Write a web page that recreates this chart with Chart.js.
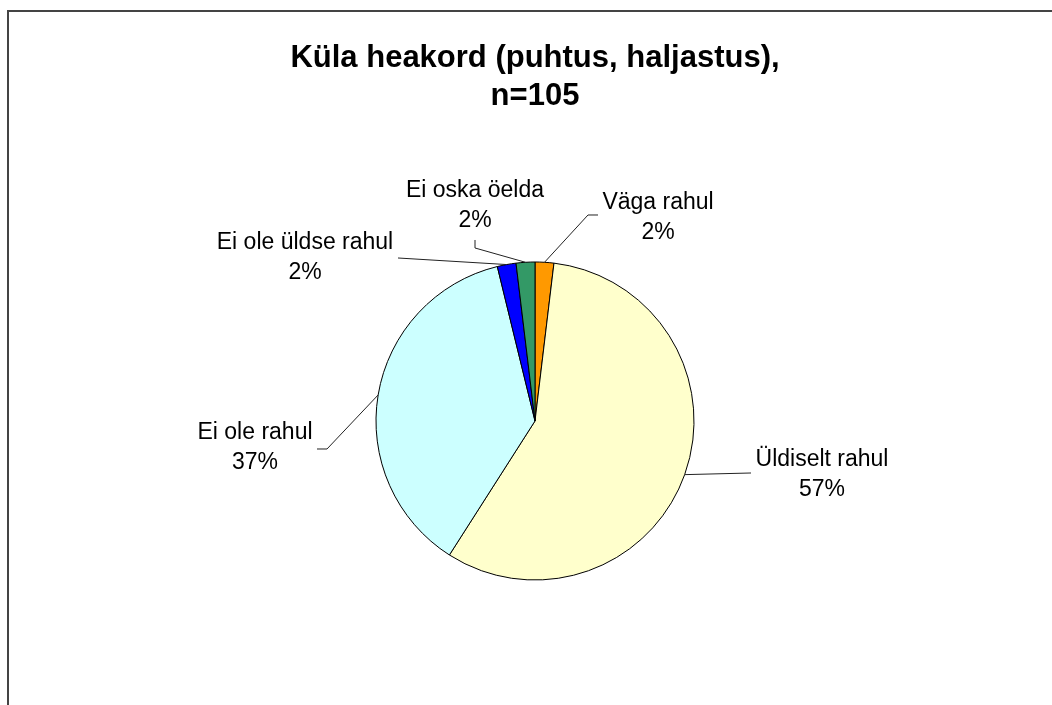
<!DOCTYPE html>
<html>
<head>
<meta charset="utf-8">
<script src="https://cdn.jsdelivr.net/npm/chart.js@4"></script>
<style>
    html, body { margin: 0; padding: 0; background: #fff; }
    .wrap { position: relative; width: 1052px; height: 705px; overflow: hidden; }
    .frame {
        position: absolute; left: 7px; top: 10px; width: 1100px; height: 800px;
        border-top: 2px solid #444; border-left: 2px solid #444;
    }
    canvas { position: absolute; left: 0; top: 0; }
</style>
</head>
<body>
<div class="wrap">
    <div class="frame"></div>
    <canvas id="pieChart" width="1052" height="705"></canvas>
</div>
<script>
const categories = ['Väga rahul', 'Üldiselt rahul', 'Ei ole rahul', 'Ei ole üldse rahul', 'Ei oska öelda'];
const counts = [2, 60, 39, 2, 2];
const titleLines = ['Küla heakord (puhtus, haljastus),', 'n=105'];
const sliceColors = ['#FF9900', '#FFFFCC', '#CCFFFF', '#0000FF', '#339966'];

// where each label sits, relative to the pie centre (text centre, leader elbow, leader end)
const labelSpots = [
    { tx: 123, ty: -218, elbow: [53, -206], end: [63, -206] },
    { tx: 287, ty: 39, elbow: [216, 52], end: [216, 52] },
    { tx: -280, ty: 12, elbow: [-208, 28], end: [-218, 28] },
    { tx: -230, ty: -178, elbow: [-137, -163], end: [-137, -163] },
    { tx: -60, ty: -230, elbow: [-60, -173], end: [-60, -181] }
];

const pieLabels = {
    id: 'pieLabels',
    afterDatasetsDraw(chart) {
        const ctx = chart.ctx;
        const meta = chart.getDatasetMeta(0);
        const total = counts.reduce((a, b) => a + b, 0);
        ctx.save();
        meta.data.forEach((arc, i) => {
            const p = arc.getProps(['x', 'y', 'startAngle', 'endAngle', 'outerRadius'], true);
            const mid = (p.startAngle + p.endAngle) / 2;
            const ex = p.x + p.outerRadius * Math.cos(mid);
            const ey = p.y + p.outerRadius * Math.sin(mid);
            const s = labelSpots[i];

            ctx.beginPath();
            ctx.strokeStyle = '#222';
            ctx.lineWidth = 1;
            ctx.moveTo(ex, ey);
            ctx.lineTo(p.x + s.elbow[0], p.y + s.elbow[1]);
            ctx.lineTo(p.x + s.end[0], p.y + s.end[1]);
            ctx.stroke();

            ctx.fillStyle = '#000';
            ctx.font = '23px "Liberation Sans", Arial, sans-serif';
            ctx.textAlign = 'center';
            ctx.textBaseline = 'middle';
            const pct = Math.round(counts[i] / total * 100) + '%';
            ctx.fillText(categories[i], p.x + s.tx, p.y + s.ty);
            ctx.fillText(pct, p.x + s.tx, p.y + s.ty + 30);
        });
        ctx.restore();
    }
};

new Chart(document.getElementById('pieChart'), {
    type: 'pie',
    data: {
        labels: categories,
        datasets: [{
            data: counts,
            backgroundColor: sliceColors,
            borderColor: '#000',
            borderWidth: 1,
            radius: 159
        }]
    },
    options: {
        responsive: false,
        devicePixelRatio: 1,
        animation: false,
        layout: {
            padding: { left: 18, right: 0, top: 0, bottom: 126 }
        },
        plugins: {
            legend: { display: false },
            tooltip: { enabled: false },
            title: {
                display: true,
                text: titleLines,
                color: '#000',
                font: { family: '"Liberation Sans", Arial, sans-serif', size: 31, weight: 'bold', lineHeight: 1.2258 },
                padding: { top: 39.5, bottom: 147.5 }
            }
        }
    },
    plugins: [pieLabels]
});
</script>
</body>
</html>
